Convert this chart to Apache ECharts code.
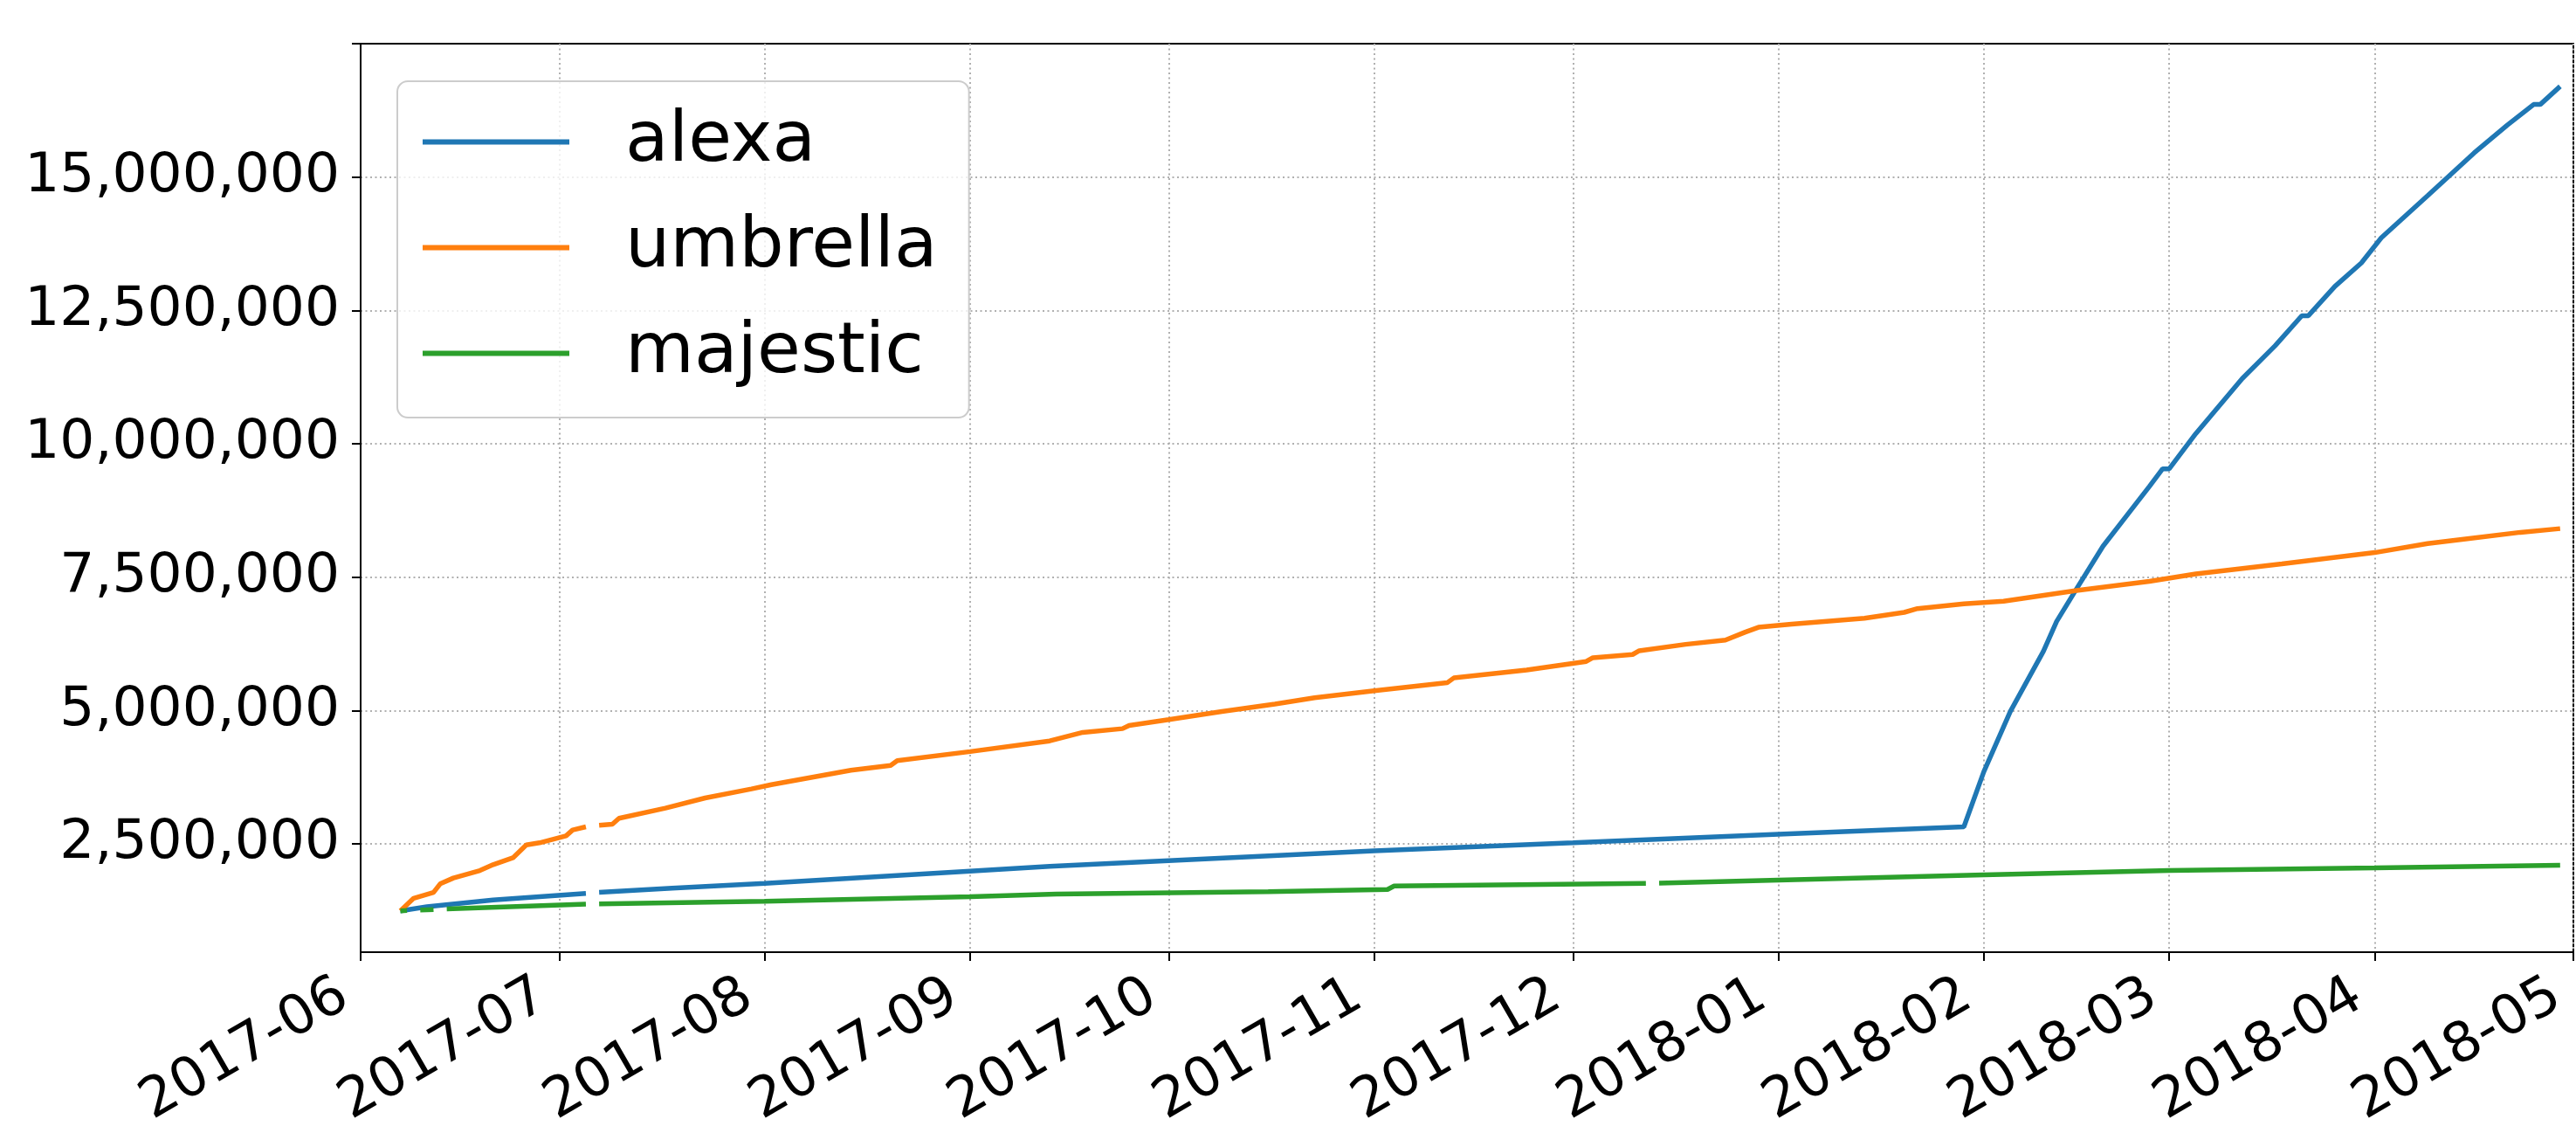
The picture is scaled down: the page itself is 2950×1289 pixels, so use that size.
<!DOCTYPE html>
<html>
<head>
<meta charset="utf-8">
<script src="https://cdn.jsdelivr.net/npm/echarts@6/dist/echarts.min.js"></script>
<style>
  html, body { margin: 0; padding: 0; background: #fff; }
  #chart { width: 2950px; height: 1289px; }
</style>
</head>
<body>
<div id="chart"></div>
<script>
// x axis: month ticks and their labels
const monthTicks = ['2017-06-01', '2017-07-01', '2017-08-01', '2017-09-01', '2017-10-01', '2017-11-01',
  '2017-12-01', '2018-01-01', '2018-02-01', '2018-03-01', '2018-04-01', '2018-05-01']
const monthLabels = ['2017-06', '2017-07', '2017-08', '2017-09', '2017-10', '2017-11',
  '2017-12', '2018-01', '2018-02', '2018-03', '2018-04', '2018-05']

// y axis ticks with labels, plus the unlabeled tick at the top edge
const yTicks = [2500000, 5000000, 7500000, 10000000, 12500000, 15000000]
const yTopTick = [17500000]

const seriesNames = ['alexa', 'umbrella', 'majestic']

// alexa (null = missing day)
const alexaDates = ['2017-06-07', '2017-06-11', '2017-06-21', '2017-07-05', '2017-07-06', '2017-07-07',
  '2017-07-18', '2017-08-01', '2017-09-01', '2017-09-13', '2017-11-01', '2017-12-01', '2018-01-01',
  '2018-01-29', '2018-02-01', '2018-02-05', '2018-02-10', '2018-02-12', '2018-02-15', '2018-02-19',
  '2018-02-24', '2018-02-26', '2018-02-28', '2018-03-01', '2018-03-05', '2018-03-12', '2018-03-17',
  '2018-03-21', '2018-03-22', '2018-03-26', '2018-03-30', '2018-04-02', '2018-04-09', '2018-04-16',
  '2018-04-21', '2018-04-25', '2018-04-26', '2018-04-29']
const alexaValues = [1245000, 1320000, 1450000, 1570000, null, 1590000,
  1670000, 1760000, 1990000, 2080000, 2370000, 2520000, 2680000,
  2820000, 3850000, 4980000, 6110000, 6670000, 7280000, 8080000,
  8880000, 9200000, 9530000, 9530000, 10190000, 11220000, 11840000,
  12400000, 12400000, 12950000, 13390000, 13860000, 14650000, 15450000,
  15970000, 16360000, 16360000, 16700000]

// umbrella
const umbrellaDates = ['2017-06-07', '2017-06-09', '2017-06-12', '2017-06-13', '2017-06-15', '2017-06-19',
  '2017-06-21', '2017-06-24', '2017-06-26', '2017-06-28', '2017-07-02', '2017-07-03', '2017-07-05',
  '2017-07-06', '2017-07-07', '2017-07-09', '2017-07-10', '2017-07-17', '2017-07-23', '2017-07-30',
  '2017-08-02', '2017-08-14', '2017-08-20', '2017-08-21', '2017-09-01', '2017-09-13', '2017-09-18',
  '2017-09-24', '2017-09-25', '2017-10-01', '2017-10-09', '2017-10-17', '2017-10-23', '2017-11-01',
  '2017-11-12', '2017-11-13', '2017-11-24', '2017-12-03', '2017-12-04', '2017-12-10', '2017-12-11',
  '2017-12-18', '2017-12-24', '2017-12-27', '2017-12-29', '2018-01-03', '2018-01-14', '2018-01-20',
  '2018-01-22', '2018-01-29', '2018-02-04', '2018-02-15', '2018-02-26', '2018-03-05', '2018-03-18',
  '2018-04-01', '2018-04-09', '2018-04-15', '2018-04-23', '2018-04-29']
const umbrellaValues = [1245000, 1480000, 1590000, 1750000, 1860000, 2000000,
  2110000, 2240000, 2480000, 2520000, 2650000, 2760000, 2820000,
  null, 2850000, 2870000, 2980000, 3170000, 3360000, 3530000,
  3610000, 3880000, 3970000, 4060000, 4230000, 4430000, 4590000,
  4660000, 4720000, 4830000, 4980000, 5120000, 5240000, 5370000,
  5520000, 5610000, 5760000, 5920000, 5990000, 6050000, 6120000,
  6240000, 6320000, 6470000, 6560000, 6620000, 6730000, 6840000,
  6910000, 7000000, 7050000, 7250000, 7420000, 7560000, 7750000,
  7960000, 8130000, 8220000, 8340000, 8410000]

// majestic
const majesticDates = ['2017-06-07', '2017-06-08', '2017-06-09', '2017-06-10', '2017-06-12', '2017-06-13',
  '2017-06-14', '2017-07-05', '2017-07-06', '2017-07-07', '2017-08-01', '2017-09-01', '2017-09-14',
  '2017-10-16', '2017-11-03', '2017-11-04', '2017-12-12', '2017-12-13', '2017-12-14', '2018-02-01',
  '2018-03-01', '2018-04-01', '2018-04-29']
const majesticValues = [1245000, 1250000, null, 1260000, 1270000, null,
  1280000, 1370000, null, 1375000, 1425000, 1510000, 1560000,
  1605000, 1645000, 1710000, 1760000, null, 1765000, 1920000,
  2000000, 2050000, 2100000]

const colors = ['#1f77b4', '#ff7f0e', '#2ca02c']
const font = 'DejaVu Sans'
const yMin = 470000
const yMax = 17500000

// dates -> ms timestamps (UTC) for a numeric x axis
const toTime = s => new Date(s + 'T00:00:00Z').getTime()
const tickTimes = monthTicks.map(toTime)
const pairs = (dates, values) => dates.map((d, i) => [toTime(d), values[i]])

const chart = echarts.init(document.getElementById('chart'), null, { renderer: 'canvas' })

const makeSeries = (name, data, color) => ({
  name: name,
  type: 'line',
  data: data,
  symbol: 'none',
  showSymbol: false,
  connectNulls: false,
  color: color,
  lineStyle: { width: 5.5, color: color },
  emphasis: { disabled: true }
})

const tickStyle = { color: '#000', width: 2 }
const gridLine = { show: true, lineStyle: { color: '#b0b0b0', width: 2, type: [2, 3.5] } }

const option = {
  animation: false,
  backgroundColor: '#ffffff',
  grid: {
    left: 413, top: 50, right: 3, bottom: 199,
    outerBoundsMode: 'none',
    containLabel: false,
    show: true, borderColor: '#000', borderWidth: 2, backgroundColor: 'transparent'
  },
  legend: {
    orient: 'vertical',
    left: 455, top: 93,
    data: seriesNames,
    icon: 'rect',
    itemWidth: 168, itemHeight: 6,
    itemGap: 40,
    padding: [29, 36, 33, 29],
    backgroundColor: 'rgba(255,255,255,0.8)',
    borderColor: '#cccccc', borderWidth: 2, borderRadius: 12,
    textStyle: { fontFamily: font, fontSize: 81, lineHeight: 80, color: '#000', padding: [0, 0, 0, 59] }
  },
  xAxis: {
    type: 'value',
    min: tickTimes[0], max: tickTimes[tickTimes.length - 1],
    axisLine: { show: true, onZero: false, lineStyle: tickStyle },
    axisTick: { show: true, length: 10, lineStyle: tickStyle, customValues: tickTimes },
    axisLabel: {
      customValues: tickTimes,
      rotate: 30,
      align: 'right',
      verticalAlign: 'bottom',
      lineHeight: 74,
      margin: 78,
      fontFamily: font, fontSize: 63, color: '#000',
      formatter: v => {
        const i = tickTimes.indexOf(Number(v))
        return i >= 0 ? monthLabels[i] : ''
      }
    },
    splitLine: gridLine
  },
  yAxis: [{
    type: 'value',
    min: yMin, max: yMax,
    axisLine: { show: true, onZero: false, lineStyle: tickStyle },
    axisTick: { show: true, length: 10, lineStyle: tickStyle, customValues: yTicks },
    axisLabel: {
      customValues: yTicks,
      margin: 24,
      fontFamily: font, fontSize: 63, color: '#000',
      formatter: v => Number(v).toLocaleString('en-US')
    },
    splitLine: gridLine
  }, {
    // only carries the unlabeled tick at the top edge
    type: 'value',
    position: 'left',
    min: yMin, max: yMax,
    axisLine: { show: false },
    axisTick: { show: true, length: 10, lineStyle: tickStyle, customValues: yTopTick },
    axisLabel: { show: false },
    splitLine: { show: false }
  }],
  series: [
    makeSeries(seriesNames[0], pairs(alexaDates, alexaValues), colors[0]),
    makeSeries(seriesNames[1], pairs(umbrellaDates, umbrellaValues), colors[1]),
    makeSeries(seriesNames[2], pairs(majesticDates, majesticValues), colors[2])
  ]
}

chart.setOption(option)
</script>
</body>
</html>
